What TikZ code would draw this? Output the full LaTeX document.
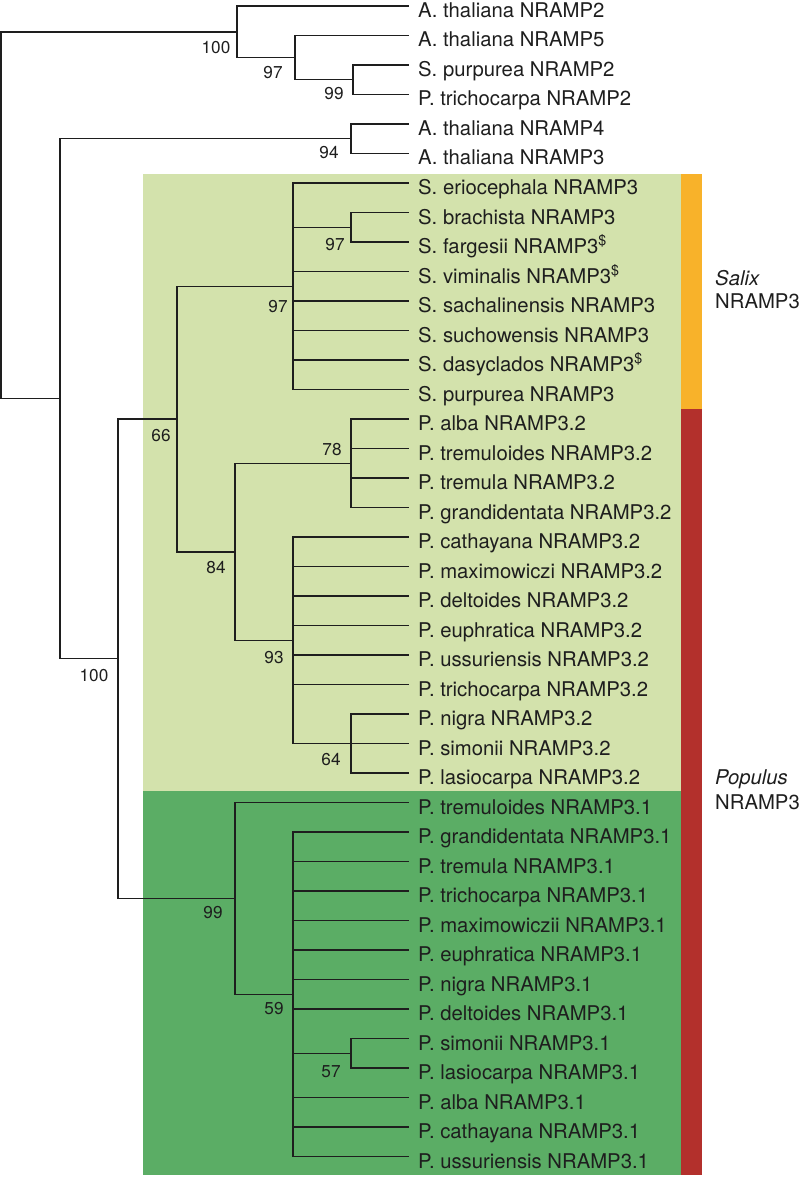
\documentclass[tikz,border=0pt]{standalone}
\usepackage{fontspec}
\setmainfont{TeX Gyre Heros}
\definecolor{lgreen}{RGB}{211,226,172}
\definecolor{dgreen}{RGB}{91,173,101}
\definecolor{salixbar}{RGB}{248,178,42}
\definecolor{popbar}{RGB}{179,48,44}
\definecolor{ink}{RGB}{30,30,30}
\begin{document}
\begin{tikzpicture}[x=1pt,y=-1pt,
  br/.style={line width=1.5pt, draw=ink},
  leaf/.style={anchor=base west, inner sep=0pt, text=ink, font=\fontsize{20.3}{24}\selectfont},
  bs/.style={inner sep=0pt, text=ink, font=\fontsize{17.2}{20}\selectfont},
  grp/.style={anchor=base west, inner sep=0pt, text=ink, font=\fontsize{20.3}{24}\selectfont}]
\useasboundingbox (0,0) rectangle (799,1177);
% backgrounds
\fill[lgreen] (143,174) rectangle (681,791);
\fill[dgreen] (143,791) rectangle (681,1175);
\fill[salixbar] (681,174) rectangle (702,409);
\fill[popbar] (681,409) rectangle (702,1175);
% leaves
\foreach \i/\t in {
 0/{A. thaliana NRAMP2},
 1/{A. thaliana NRAMP5},
 2/{S. purpurea NRAMP2},
 3/{P. trichocarpa NRAMP2},
 4/{A. thaliana NRAMP4},
 5/{A. thaliana NRAMP3},
 6/{S. eriocephala NRAMP3},
 7/{S. brachista NRAMP3},
 8/{S. fargesii NRAMP3\textsuperscript{\$}},
 9/{S. viminalis NRAMP3\textsuperscript{\$}},
 10/{S. sachalinensis NRAMP3},
 11/{S. suchowensis NRAMP3},
 12/{S. dasyclados NRAMP3\textsuperscript{\$}},
 13/{S. purpurea NRAMP3},
 14/{P. alba NRAMP3.2},
 15/{P. tremuloides NRAMP3.2},
 16/{P. tremula NRAMP3.2},
 17/{P. grandidentata NRAMP3.2},
 18/{P. cathayana NRAMP3.2},
 19/{P. maximowiczi NRAMP3.2},
 20/{P. deltoides NRAMP3.2},
 21/{P. euphratica NRAMP3.2},
 22/{P. ussuriensis NRAMP3.2},
 23/{P. trichocarpa NRAMP3.2},
 24/{P. nigra NRAMP3.2},
 25/{P. simonii NRAMP3.2},
 26/{P. lasiocarpa NRAMP3.2},
 27/{P. tremuloides NRAMP3.1},
 28/{P. grandidentata NRAMP3.1},
 29/{P. tremula NRAMP3.1},
 30/{P. trichocarpa NRAMP3.1},
 31/{P. maximowiczii NRAMP3.1},
 32/{P. euphratica NRAMP3.1},
 33/{P. nigra NRAMP3.1},
 34/{P. deltoides NRAMP3.1},
 35/{P. simonii NRAMP3.1},
 36/{P. lasiocarpa NRAMP3.1},
 37/{P. alba NRAMP3.1},
 38/{P. cathayana NRAMP3.1},
 39/{P. ussuriensis NRAMP3.1}}{
  \pgfmathsetmacro\yy{6+29.5*\i}
  \coordinate (t\i) at (409,\yy);
  \node[leaf] (L\i) at (418,\yy+11.5) {\t};
}
% internal nodes
\coordinate (R) at (1,215.3);
\coordinate (N100a) at (237,31.8);
\coordinate (N97a) at (295,57.6);
\coordinate (N99a) at (353,79.75);
\coordinate (N60) at (60,398.7);
\coordinate (N94) at (351,138.75);
\coordinate (N100b) at (118,658.7);
\coordinate (N66) at (177,419);
\coordinate (N97s) at (293,286.25);
\coordinate (N97ss) at (351,227.25);
\coordinate (N84) at (235,551.75);
\coordinate (N78) at (351,463.25);
\coordinate (N93) at (293,640.25);
\coordinate (N64) at (351,743.5);
\coordinate (N99b) at (235,898.4);
\coordinate (N59) at (293,994.25);
\coordinate (N57) at (351,1053.25);
% root start
\coordinate (R0) at (0,31.8);
\coordinate (R1) at (0,398.7);
% edges
\draw[br] (R0) -- (N100a);
\draw[br] (R1) -- (N60);
\draw[br] (R) |- (N100a);
\draw[br] (R) |- (N60);
\draw[br] (N100a) |- (t0);
\draw[br] (N100a) |- (N97a);
\draw[br] (N97a) |- (t1);
\draw[br] (N97a) |- (N99a);
\draw[br] (N99a) |- (t2);
\draw[br] (N99a) |- (t3);
\draw[br] (N60) |- (N94);
\draw[br] (N60) |- (N100b);
\draw[br] (N94) |- (t4);
\draw[br] (N94) |- (t5);
\draw[br] (N100b) |- (N66);
\draw[br] (N100b) |- (N99b);
\draw[br] (N66) |- (N97s);
\draw[br] (N66) |- (N84);
\draw[br] (N97s) |- (t6);
\draw[br] (N97s) |- (N97ss);
\foreach \i in {9,...,13} {\draw[br] (N97s) |- (t\i);}
\draw[br] (N97ss) |- (t7);
\draw[br] (N97ss) |- (t8);
\draw[br] (N84) |- (N78);
\draw[br] (N84) |- (N93);
\foreach \i in {14,...,17} {\draw[br] (N78) |- (t\i);}
\foreach \i in {18,...,23} {\draw[br] (N93) |- (t\i);}
\draw[br] (N93) |- (N64);
\foreach \i in {24,...,26} {\draw[br] (N64) |- (t\i);}
\draw[br] (N99b) |- (t27);
\draw[br] (N99b) |- (N59);
\foreach \i in {28,...,34,37,38,39} {\draw[br] (N59) |- (t\i);}
\draw[br] (N59) |- (N57);
\draw[br] (N57) |- (t35);
\draw[br] (N57) |- (t36);
% bootstrap values
\node[bs] (b1) at (216,48) {100};
\node[bs] (b2) at (273,73) {97};
\node[bs] (b3) at (334,94) {99};
\node[bs] (b4) at (329,153) {94};
\node[bs] (b5) at (335,245) {97};
\node[bs] (b6) at (278,307) {97};
\node[bs] (b7) at (161,436) {66};
\node[bs] (b8) at (332,450) {78};
\node[bs] (b9) at (216,568) {84};
\node[bs] (b10) at (274,658) {93};
\node[bs] (b11) at (331,760) {64};
\node[bs] (b12) at (94,676) {100};
\node[bs] (b13) at (213,913) {99};
\node[bs] (b14) at (274,1009) {59};
\node[bs] (b15) at (331,1072) {57};
% group labels
\node[grp] (gs1) at (715,285) {\itshape Salix};
\node[grp] (gs2) at (715,308) {NRAMP3};
\node[grp] (gp1) at (715,784) {\itshape Populus};
\node[grp] (gp2) at (715,809) {NRAMP3};
\end{tikzpicture}
\end{document}
